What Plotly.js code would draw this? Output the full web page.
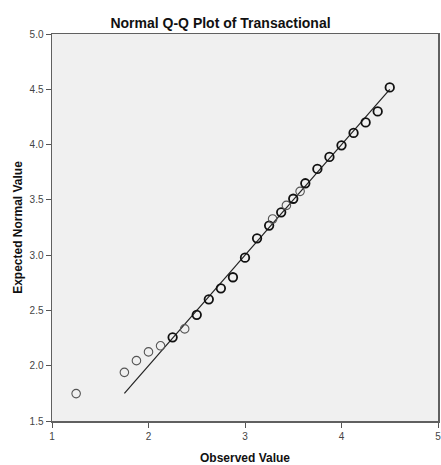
<!DOCTYPE html>
<html>
<head>
<meta charset="utf-8">
<script src="https://cdn.plot.ly/plotly-3.0.1.min.js"></script>
<style>html,body{margin:0;padding:0;background:#fff;}#chart{width:441px;height:465px;}</style>
</head>
<body>
<div id="chart"></div>
<script>
// Observed values and their expected normal values
const observed = [1.25, 1.75, 1.875, 2.0, 2.125, 2.25, 2.375, 2.5, 2.625, 2.75, 2.875, 3.0, 3.125, 3.25, 3.286, 3.375, 3.429, 3.5, 3.571, 3.625, 3.75, 3.875, 4.0, 4.125, 4.25, 4.375, 4.5];
const expected = [1.748, 1.94, 2.046, 2.125, 2.18, 2.257, 2.333, 2.46, 2.60, 2.70, 2.80, 2.977, 3.152, 3.267, 3.327, 3.387, 3.45, 3.51, 3.577, 3.65, 3.78, 3.888, 3.993, 4.105, 4.20, 4.30, 4.517];
// number of cases at each point (overlapping cases drawn darker)
const caseCount = [1, 1, 1, 1, 1, 2, 1, 2, 2, 2, 2, 2, 2, 2, 1, 2, 1, 2, 1, 2, 2, 2, 2, 2, 2, 2, 2];
// reference line endpoints
const lineX = [1.75, 4.5];
const lineY = [1.75, 4.5];
const xTicks = [1, 2, 3, 4, 5];
const yTicks = [1.5, 2.0, 2.5, 3.0, 3.5, 4.0, 4.5, 5.0];

const lineColors = caseCount.map(c => c > 1 ? '#111111' : '#555555');
const lineWidths = caseCount.map(c => c > 1 ? 1.8 : 1.1);

const data = [
  {x: lineX, y: lineY, type: 'scatter', mode: 'lines', line: {color: '#222', width: 1.2}, hoverinfo: 'skip'},
  {x: observed, y: expected, type: 'scatter', mode: 'markers',
   marker: {symbol: 'circle-open', size: 8.5, color: lineColors, line: {color: lineColors, width: lineWidths}}}
];

const axisFont = {family: 'Arial, "Liberation Sans", sans-serif', size: 10, color: '#444'};
const layout = {
  width: 441, height: 465,
  margin: {l: 52, r: 3, t: 34, b: 44, pad: 0},
  paper_bgcolor: '#ffffff', plot_bgcolor: '#f0f0f0',
  showlegend: false,
  title: {text: 'Normal Q-Q Plot of Transactional', x: 0.5, xref: 'container', xanchor: 'center', y: 1, yref: 'container', yanchor: 'top', pad: {t: 18},
          font: {family: 'Arial, "Liberation Sans", sans-serif', size: 14, color: '#111', weight: 'bold'}},
  xaxis: {range: [1, 5], tickvals: xTicks, ticktext: xTicks.map(String), ticks: 'outside', ticklen: 5, tickwidth: 1, tickcolor: '#555',
          ticklabeloverflow: 'allow',
          showgrid: false, zeroline: false, showline: true, mirror: true, linecolor: '#606060', linewidth: 1.5,
          tickfont: axisFont,
          title: {text: 'Observed Value', standoff: 14, font: {family: 'Arial, "Liberation Sans", sans-serif', size: 12, color: '#111', weight: 'bold'}}},
  yaxis: {range: [1.5, 5], tickvals: yTicks, ticktext: yTicks.map(v => v.toFixed(1)), ticks: 'outside', ticklen: 5, tickwidth: 1, tickcolor: '#555',
          ticklabeloverflow: 'allow',
          showgrid: false, zeroline: false, showline: true, mirror: true, linecolor: '#606060', linewidth: 1.5,
          tickfont: axisFont,
          title: {text: 'Expected Normal Value', standoff: 4, font: {family: 'Arial, "Liberation Sans", sans-serif', size: 12, color: '#111', weight: 'bold'}}}
};

Plotly.newPlot('chart', data, layout, {staticPlot: true, displayModeBar: false});
</script>
</body>
</html>
